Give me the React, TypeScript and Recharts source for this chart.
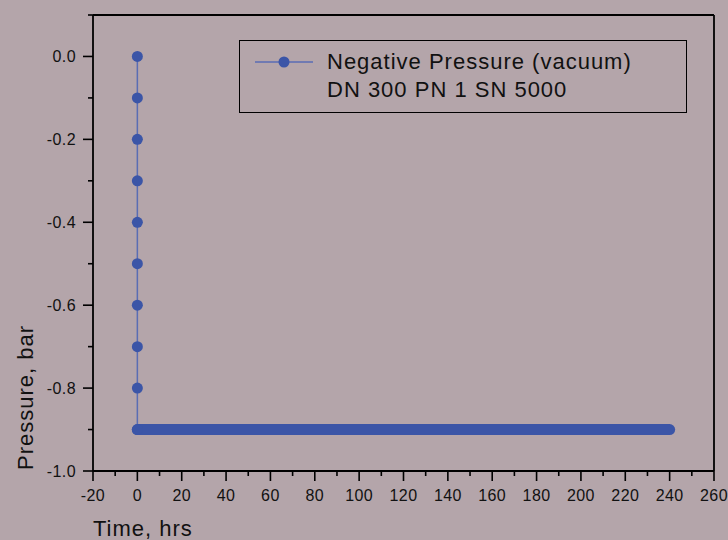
import React from 'react';
import { LineChart, Line, XAxis, YAxis, Legend, ReferenceLine } from 'recharts';

// pressure readings: quick pull-down at t=0, then held at -0.9 bar for 240 hrs
const descentTime = [0, 0, 0, 0, 0, 0, 0, 0, 0, 0];
const descentPressure = [0.0, -0.1, -0.2, -0.3, -0.4, -0.5, -0.6, -0.7, -0.8, -0.9];
const holdTime = [0, 240];
const holdPressure = [-0.9, -0.9];

const xTicks = [-20, -10, 0, 10, 20, 30, 40, 50, 60, 70, 80, 90, 100, 110, 120, 130, 140, 150, 160, 170, 180, 190, 200, 210, 220, 230, 240, 250, 260];
const yTicks = [-1.0, -0.9, -0.8, -0.7, -0.6, -0.5, -0.4, -0.3, -0.2, -0.1, 0.0, 0.1];

const legendLines = ['Negative Pressure (vacuum)', 'DN 300 PN 1 SN 5000'];

const bg = '#b4a5aa';
const dotColor = '#3b55a7';
const lineColor = '#5a6db4';
const font = '"Liberation Sans", Arial, sans-serif';

const descentData = descentTime.map((t, i) => ({ t, p: descentPressure[i] }));
const holdData = holdTime.map((t, i) => ({ t, p: holdPressure[i] }));

const XTick = (props: any) => {
  const { x, y, payload } = props;
  const major = payload.value % 20 === 0;
  return (
    <g>
      <line x1={x} x2={x} y1={y} y2={y + (major ? 10 : 5)} stroke="#000" strokeWidth={1.6} />
      {major && (
        <text x={x} y={y + 30} textAnchor="middle" fontSize={16} letterSpacing={0.4} fontFamily={font} fill="#111">
          {payload.value}
        </text>
      )}
    </g>
  );
};

const YTick = (props: any) => {
  const { x, y, payload } = props;
  const major = Math.round(payload.value * 10) % 2 === 0;
  return (
    <g>
      <line x1={x - (major ? 10 : 5)} x2={x} y1={y} y2={y} stroke="#000" strokeWidth={1.6} />
      {major && (
        <text x={x - 17} y={y + 5.5} textAnchor="end" fontSize={16} letterSpacing={0.4} fontFamily={font} fill="#111">
          {payload.value.toFixed(1)}
        </text>
      )}
    </g>
  );
};

const renderLegend = () => (
  <svg width={448} height={73} style={{ display: 'block' }}>
    <rect x={0.5} y={0.5} width={447} height={72} fill="none" stroke="#000" strokeWidth={1} />
    <line x1={16} x2={74} y1={22} y2={22} stroke={lineColor} strokeWidth={1.5} />
    <circle cx={45} cy={22} r={5.5} fill={dotColor} />
    {legendLines.map((s, i) => (
      <text key={s} x={88} y={29 + i * 28} fontSize={22} letterSpacing={1} fontFamily={font} fill="#111">
        {s}
      </text>
    ))}
  </svg>
);

export default function App() {
  return (
    <div style={{ position: 'absolute', left: 0, top: 0, width: 728, height: 540, background: bg, fontFamily: font }}>
      <LineChart width={728} height={540} margin={{ top: 15, right: 14, bottom: 0, left: 0 }}>
        <XAxis
          dataKey="t"
          type="number"
          domain={[-20, 260]}
          ticks={xTicks}
          interval={0}
          height={69}
          tickSize={0}
          tickMargin={0}
          tickLine={false}
          tick={XTick}
          axisLine={{ stroke: '#000', strokeWidth: 1.8 }}
          label={{
            content: ({ viewBox }: any) => (
              <text x={viewBox.x} y={viewBox.y + 65} fontSize={22} letterSpacing={1} fontFamily={font} fill="#111">
                Time, hrs
              </text>
            ),
          }}
        />
        <YAxis
          dataKey="p"
          type="number"
          domain={[-1.0, 0.1]}
          ticks={yTicks}
          interval={0}
          width={93}
          tickSize={0}
          tickMargin={0}
          tickLine={false}
          tick={YTick}
          axisLine={{ stroke: '#000', strokeWidth: 1.8 }}
          label={{
            content: ({ viewBox }: any) => {
              const lx = viewBox.x + 33;
              const ly = viewBox.y + viewBox.height - 1;
              return (
                <text x={lx} y={ly} transform={`rotate(-90, ${lx}, ${ly})`} fontSize={22} letterSpacing={1} fontFamily={font} fill="#111">
                  Pressure, bar
                </text>
              );
            },
          }}
        />
        <ReferenceLine y={0.1} stroke="#000" strokeWidth={1.8} />
        <ReferenceLine x={260} stroke="#000" strokeWidth={1.8} />
        <Legend
          layout="horizontal"
          verticalAlign="middle"
          align="center"
          wrapperStyle={{ left: 239, top: 40, width: 448, height: 73 }}
          content={renderLegend}
        />
        <Line
          data={descentData}
          dataKey="p"
          name={legendLines[0]}
          stroke={lineColor}
          strokeWidth={1.5}
          dot={{ r: 5.5, fill: dotColor, stroke: 'none' }}
          isAnimationActive={false}
        />
        <Line
          data={holdData}
          dataKey="p"
          legendType="none"
          stroke={dotColor}
          strokeWidth={11}
          strokeLinecap="round"
          dot={false}
          isAnimationActive={false}
        />
      </LineChart>
    </div>
  );
}
